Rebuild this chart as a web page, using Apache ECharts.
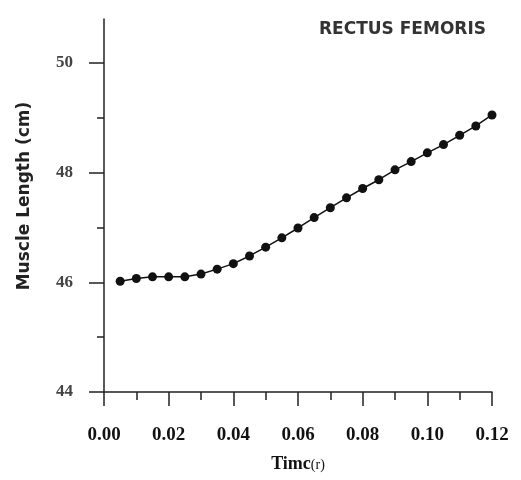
<!DOCTYPE html>
<html>
<head>
<meta charset="utf-8">
<script src="https://cdn.jsdelivr.net/npm/echarts@6/dist/echarts.min.js"></script>
<style>html,body{margin:0;padding:0;background:#fff}#c{width:521px;height:480px}</style>
</head>
<body>
<div id="c"></div>
<script>
const times = [0.005,0.010,0.015,0.020,0.025,0.030,0.035,0.040,0.045,0.050,0.055,0.060,0.065,0.070,0.075,0.080,0.085,0.090,0.095,0.100,0.105,0.110,0.115,0.120];
const lengths = [46.02,46.07,46.10,46.10,46.10,46.15,46.24,46.34,46.48,46.64,46.81,46.99,47.18,47.36,47.54,47.71,47.87,48.05,48.20,48.36,48.51,48.68,48.85,49.05];
const yMajorTicks = [44,46,48,50];
const yMinorTicks = [45,47,49];
const xTickLabels = ['0.00','0.02','0.04','0.06','0.08','0.10','0.12'];
const titleText = 'RECTUS FEMORIS';
const xName = 'Timc';
const xUnit = '(r)';
const yName = 'Muscle Length (cm)';

const serif = '"Liberation Serif","DejaVu Serif",serif';
const sans = '"DejaVu Sans","Liberation Sans",sans-serif';
const chart = echarts.init(document.getElementById('c'));
chart.setOption({
  animation: false,
  backgroundColor: '#fff',
  title: {
    text: titleText, right: 30, top: 16,
    textStyle: {fontFamily: sans, fontSize: 17, fontWeight: 'bold', color: '#333'}
  },
  grid: {left: 104, right: 29, top: 19, bottom: 88},
  xAxis: {
    type: 'value', min: 0, max: 0.12, interval: 0.02,
    axisLine: {show: true, lineStyle: {color: '#222', width: 1.5}},
    axisTick: {show: true, length: 14, lineStyle: {color: '#222', width: 1.5}},
    minorTick: {show: true, splitNumber: 2, length: 8, lineStyle: {color: '#222', width: 1.5}},
    splitLine: {show: false},
    axisLabel: {
      margin: 34, fontFamily: serif, fontSize: 19, fontWeight: 'bold', color: '#111',
      formatter: (v) => xTickLabels[Math.round(v / 0.02)]
    },
    name: '{a|' + xName + '}{b|' + xUnit + '}',
    nameLocation: 'middle', nameGap: 63,
    nameTextStyle: {
      rich: {
        a: {fontFamily: serif, fontSize: 18, fontWeight: 'bold', color: '#111'},
        b: {fontFamily: serif, fontSize: 14, color: '#111', padding: [3, 0, 0, 0]}
      }
    }
  },
  yAxis: [{
    type: 'value', min: 44, max: 50.8,
    axisLine: {show: true, lineStyle: {color: '#222', width: 1.5}},
    axisTick: {show: true, length: 15, customValues: yMajorTicks, lineStyle: {color: '#222', width: 1.5}},
    splitLine: {show: false},
    axisLabel: {margin: 31, customValues: yMajorTicks, fontFamily: serif, fontSize: 17, fontWeight: 'bold', color: '#444'}
  }, {
    type: 'value', min: 44, max: 50.8, position: 'left',
    axisLine: {show: false},
    axisTick: {show: true, length: 7, customValues: yMinorTicks, lineStyle: {color: '#222', width: 1.5}},
    splitLine: {show: false},
    axisLabel: {show: false}
  }],
  graphic: [{
    type: 'text', x: 25, y: 196, rotation: Math.PI / 2,
    style: {text: yName, fontFamily: sans, fontSize: 17, fontWeight: 'bold', fill: '#222', align: 'center', verticalAlign: 'middle'}
  }],
  series: [{
    type: 'line',
    data: times.map((t, i) => [t, lengths[i]]),
    symbol: 'circle', symbolSize: 9,
    lineStyle: {color: '#111', width: 1.5},
    itemStyle: {color: '#111'}
  }]
});
</script>
</body>
</html>
